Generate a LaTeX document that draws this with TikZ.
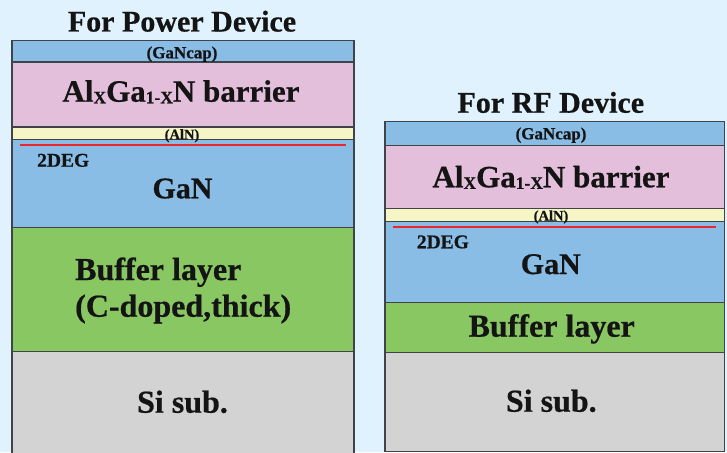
\documentclass[tikz,border=0pt]{standalone}
\usepackage{fontspec}
\setmainfont{Liberation Serif}[BoldFeatures={FakeBold=0.6}]
\definecolor{bgc}{HTML}{E0F2FD}
\definecolor{gancol}{HTML}{89BDE6}
\definecolor{barcol}{HTML}{E3BFDB}
\definecolor{alncol}{HTML}{F5F5C6}
\definecolor{bufcol}{HTML}{89C763}
\definecolor{sicol}{HTML}{D2D3D2}
\definecolor{edgecol}{HTML}{404448}
\definecolor{degcol}{HTML}{E8282C}
\definecolor{txtcol}{HTML}{141414}
\newcommand{\fs}[1]{\fontsize{#1}{#1}\selectfont\bfseries}
\newcommand{\subx}[1]{\raisebox{-1.6pt}{\fontsize{17.5}{17.5}\selectfont #1}}
\tikzset{
  layer/.style={draw=edgecol, line width=1.3pt},
  lbl/.style={inner sep=0pt, anchor=base, text=txtcol},
  lbll/.style={inner sep=0pt, anchor=base west, text=txtcol},
  deg/.style={draw=degcol, line width=2pt}
}
\begin{document}
\begin{tikzpicture}[x=1pt,y=-1pt]
\fill[bgc] (0,0) rectangle (727,452);
\useasboundingbox (0,0) rectangle (727,452);
% ---------- left stack (power) ----------
\fill[gancol] (12,40.7) rectangle (354,62);
\fill[barcol] (12,62) rectangle (354,127);
\fill[alncol] (12,127) rectangle (354,139.5);
\fill[gancol] (12,139.5) rectangle (354,227.7);
\fill[bufcol] (12,227.7) rectangle (354,351.7);
\fill[sicol] (12,351.7) rectangle (354,456);
\draw[layer] (12,456) -- (12,40.7) -- (354,40.7) -- (354,456);
\draw[layer] (12,62) -- (354,62);
\draw[layer] (12,127) -- (354,127);
\draw[layer] (12,139.5) -- (354,139.5);
\draw[layer] (12,227.7) -- (354,227.7);
\draw[layer] (12,351.7) -- (354,351.7);
\coordinate (dl1) at (20,144.7);
\coordinate (dl2) at (346,144.7);
\draw[deg] (dl1) -- (dl2);
% ---------- right stack (RF) ----------
\fill[gancol] (385,121.3) rectangle (724.5,145.3);
\fill[barcol] (385,145.3) rectangle (724.5,208.7);
\fill[alncol] (385,208.7) rectangle (724.5,221.7);
\fill[gancol] (385,221.7) rectangle (724.5,302.7);
\fill[bufcol] (385,302.7) rectangle (724.5,352.3);
\fill[sicol] (385,352.3) rectangle (724.5,451.5);
\draw[layer] (385,121.3) rectangle (724.5,451.5);
\draw[layer] (385,145.3) -- (724.5,145.3);
\draw[layer] (385,208.7) -- (724.5,208.7);
\draw[layer] (385,221.7) -- (724.5,221.7);
\draw[layer] (385,302.7) -- (724.5,302.7);
\draw[layer] (385,352.3) -- (724.5,352.3);
\coordinate (dr1) at (392.7,226.7);
\coordinate (dr2) at (715.7,226.7);
\draw[deg] (dr1) -- (dr2);
% ---------- left labels ----------
\node[lbl] (tl) at (182,31.5) {\fs{30}For Power Device};
\node[lbl] (capl) at (182,58.3) {\fs{17}(GaNcap)};
\node[lbl] (barl) at (181,101.7) {\fs{31}Al\subx{X}Ga\subx{1-X}N barrier};
\node[lbl] (alnl) at (182,139.3) {\fs{14.5}(AlN)};
\node[lbll] (degl) at (37,166.7) {\fs{19.5}2DEG};
\node[lbl] (ganl) at (182.5,198.3) {\fs{30}GaN};
\node[lbll] (bufl) at (75,280) {\fs{32}Buffer layer};
\node[lbll] (bufl2) at (75,316.7) {\fs{32}(C-doped,thick)};
\node[lbl] (sil) at (182.5,412.7) {\fs{32}Si sub.};
% ---------- right labels ----------
\node[lbl] (tr) at (550.8,112.7) {\fs{30}For RF Device};
\node[lbl] (capr) at (551,139.3) {\fs{17}(GaNcap)};
\node[lbl] (barr) at (551,187.3) {\fs{31}Al\subx{X}Ga\subx{1-X}N barrier};
\node[lbl] (alnr) at (551,220.5) {\fs{14.5}(AlN)};
\node[lbll] (degr) at (416.7,248.3) {\fs{19.5}2DEG};
\node[lbl] (ganr) at (550.8,274) {\fs{30}GaN};
\node[lbl] (bufr) at (551.7,336.7) {\fs{32}Buffer layer};
\node[lbl] (sir) at (551.3,411.7) {\fs{32}Si sub.};
\end{tikzpicture}
\end{document}
